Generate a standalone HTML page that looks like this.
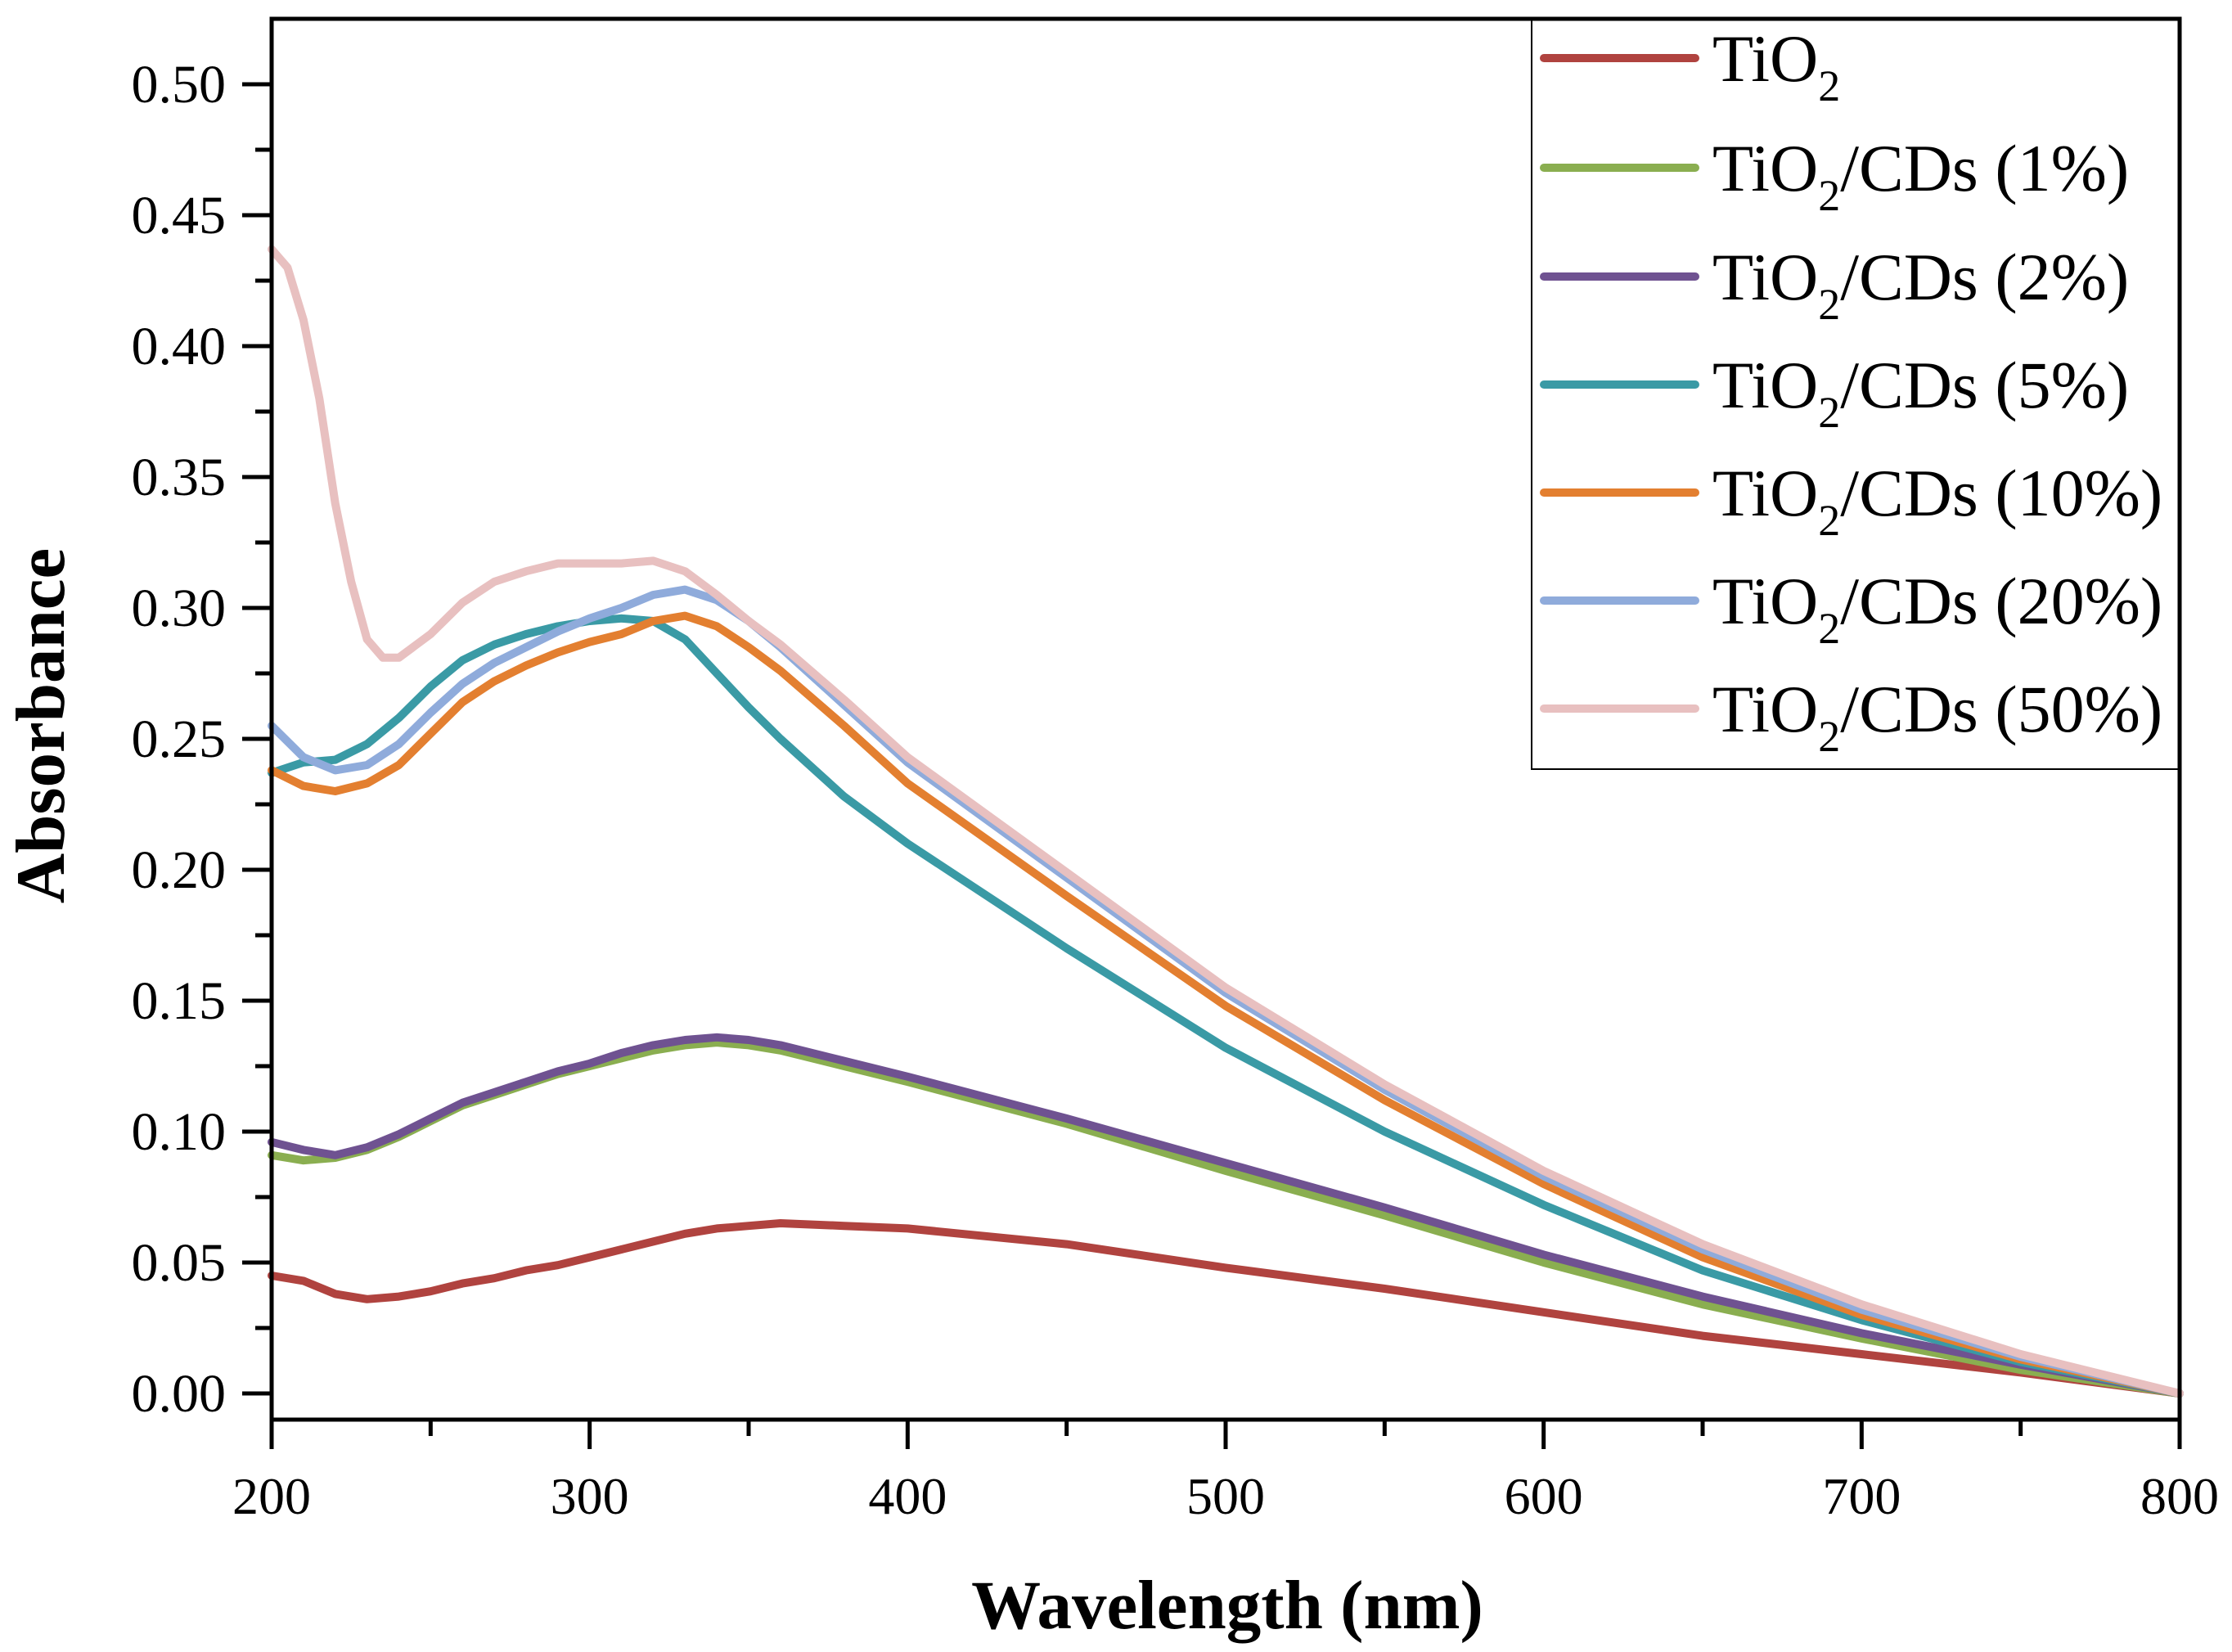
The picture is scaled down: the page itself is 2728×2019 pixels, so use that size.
<!DOCTYPE html>
<html><head><meta charset="utf-8"><style>
html,body{margin:0;padding:0;background:#fff;}
svg{display:block;font-family:"Liberation Serif",serif;}
</style></head><body>
<svg id="chart" width="2728" height="2019" viewBox="0 0 2728 2019" xmlns="http://www.w3.org/2000/svg">
<g id="plot"></g>
<g id="axes"></g>
<text x="1500" y="1990" font-size="85" font-weight="bold" text-anchor="middle">Wavelength (nm)</text>
<text transform="translate(78,887) rotate(-90)" font-size="85" font-weight="bold" text-anchor="middle">Absorbance</text>
<g id="legend"></g>
</svg>
<script>
const wl = [200,210,220,230,240,250,260,270,280,290,300,310,320,330,340,350,360,380,400,450,500,550,600,650,700,750,800];
const tio2 = [0.045,0.043,0.038,0.036,0.037,0.039,0.042,0.044,0.047,0.049,0.052,0.055,0.058,0.061,0.063,0.064,0.065,0.064,0.063,0.057,0.048,0.040,0.031,0.022,0.015,0.008,0.0];
const cd1 = [0.091,0.089,0.090,0.093,0.098,0.104,0.110,0.114,0.118,0.122,0.125,0.128,0.131,0.133,0.134,0.133,0.131,0.125,0.119,0.103,0.085,0.068,0.050,0.034,0.021,0.009,0.0];
const cd2 = [0.096,0.093,0.091,0.094,0.099,0.105,0.111,0.115,0.119,0.123,0.126,0.130,0.133,0.135,0.136,0.135,0.133,0.127,0.121,0.105,0.088,0.071,0.053,0.037,0.023,0.011,0.0];
const cd5 = [0.237,0.241,0.242,0.248,0.258,0.270,0.280,0.286,0.290,0.293,0.295,0.296,0.295,0.288,0.275,0.262,0.250,0.228,0.210,0.170,0.132,0.100,0.072,0.047,0.028,0.012,0.0];
const cd10 = [0.238,0.232,0.230,0.233,0.240,0.252,0.264,0.272,0.278,0.283,0.287,0.290,0.295,0.297,0.293,0.285,0.276,0.255,0.233,0.190,0.148,0.112,0.080,0.052,0.030,0.013,0.0];
const cd20 = [0.255,0.243,0.238,0.240,0.248,0.260,0.271,0.279,0.285,0.291,0.296,0.300,0.305,0.307,0.303,0.295,0.285,0.263,0.241,0.197,0.153,0.116,0.083,0.055,0.032,0.014,0.0];
const wl50 = [200,205,210,215,220,225,230,235,240,250,260,270,280,290,300,310,320,330,340,350,360,380,400,450,500,550,600,650,700,750,800];
const cd50 = [0.437,0.430,0.410,0.380,0.340,0.310,0.288,0.281,0.281,0.290,0.302,0.310,0.314,0.317,0.317,0.317,0.318,0.314,0.305,0.295,0.286,0.265,0.243,0.199,0.155,0.118,0.085,0.057,0.034,0.015,0.0];
const xTicks = ["200","300","400","500","600","700","800"];
const yTicks = ["0.00","0.05","0.10","0.15","0.20","0.25","0.30","0.35","0.40","0.45","0.50"];
const legendLabels = ["","/CDs (1%)","/CDs (2%)","/CDs (5%)","/CDs (10%)","/CDs (20%)","/CDs (50%)"];

const NS="http://www.w3.org/2000/svg";
const L=332,R=2664,T=23,B=1735;
const X=v=>L+(v-200)*(R-L)/600;
const Y=v=>1703-v*3200;
function mk(tag,attrs,parent){const e=document.createElementNS(NS,tag);for(const k in attrs)e.setAttribute(k,attrs[k]);parent.appendChild(e);return e;}
const plot=document.getElementById('plot'),axes=document.getElementById('axes'),leg=document.getElementById('legend');
const series=[
 {name:'tio2',xs:wl,ys:tio2,c:'#b0433f'},
 {name:'cds-1',xs:wl,ys:cd1,c:'#8aae50'},
 {name:'cds-2',xs:wl,ys:cd2,c:'#6f5291'},
 {name:'cds-5',xs:wl,ys:cd5,c:'#3a9aa5'},
 {name:'cds-10',xs:wl,ys:cd10,c:'#e37f30'},
 {name:'cds-20',xs:wl,ys:cd20,c:'#8fabdb'},
 {name:'cds-50',xs:wl50,ys:cd50,c:'#e8c0c0'}];
series.forEach(s=>{
 const pts=s.xs.map((x,i)=>X(x).toFixed(1)+','+Y(s.ys[i]).toFixed(1)).join(' ');
 const p=mk('polyline',{points:pts,fill:'none',stroke:s.c,'stroke-width':10,'stroke-linejoin':'round','stroke-linecap':'round'},plot);
 
 
});
const fr=mk('rect',{x:L,y:T,width:R-L,height:B-T,fill:'none',stroke:'#000','stroke-width':5},axes);


for(let i=0;i<=20;i++){
 const v=i*0.025;const y=Y(v);const major=i%2===0;
 const t=mk('line',{x1:L,x2:L-(major?36:20),y1:y,y2:y,stroke:'#000','stroke-width':5},axes);
 
 
}
yTicks.forEach(lab=>{
 const t=mk('text',{x:276,y:Y(parseFloat(lab))+22,'font-size':66,'text-anchor':'end'},axes);
 t.textContent=lab;
 
 
});
for(let v=200;v<=800;v+=50){
 const major=v%100===0;
 const t=mk('line',{x1:X(v),x2:X(v),y1:B,y2:B+(major?36:20),stroke:'#000','stroke-width':5},axes);
 
 
}
xTicks.forEach(lab=>{
 const t=mk('text',{x:X(parseFloat(lab)),y:1850,'font-size':64,'text-anchor':'middle'},axes);
 t.textContent=lab;
 
 
});
const lb=mk('rect',{x:1872,y:T,width:R-1872,height:940-T,fill:'#fff',stroke:'#000','stroke-width':2},leg);


mk('line',{x1:1872,x2:R,y1:T,y2:T,stroke:'#000','stroke-width':5},leg);
mk('line',{x1:R,x2:R,y1:T,y2:940,stroke:'#000','stroke-width':5},leg);
const rows=[71,205,338,470,602,734,866];
series.forEach((s,i)=>{
 const g=mk('g',{},leg);
 
 
 mk('line',{x1:1887,x2:2072,y1:rows[i],y2:rows[i],stroke:s.c,'stroke-width':10,'stroke-linecap':'round'},g);
 const t=mk('text',{x:2093,y:rows[i]+28,'font-size':82},g);
 t.innerHTML='TiO<tspan dy="24" font-size="54">2</tspan><tspan dy="-24">'+legendLabels[i]+'</tspan>';
});
</script>
</body></html>
